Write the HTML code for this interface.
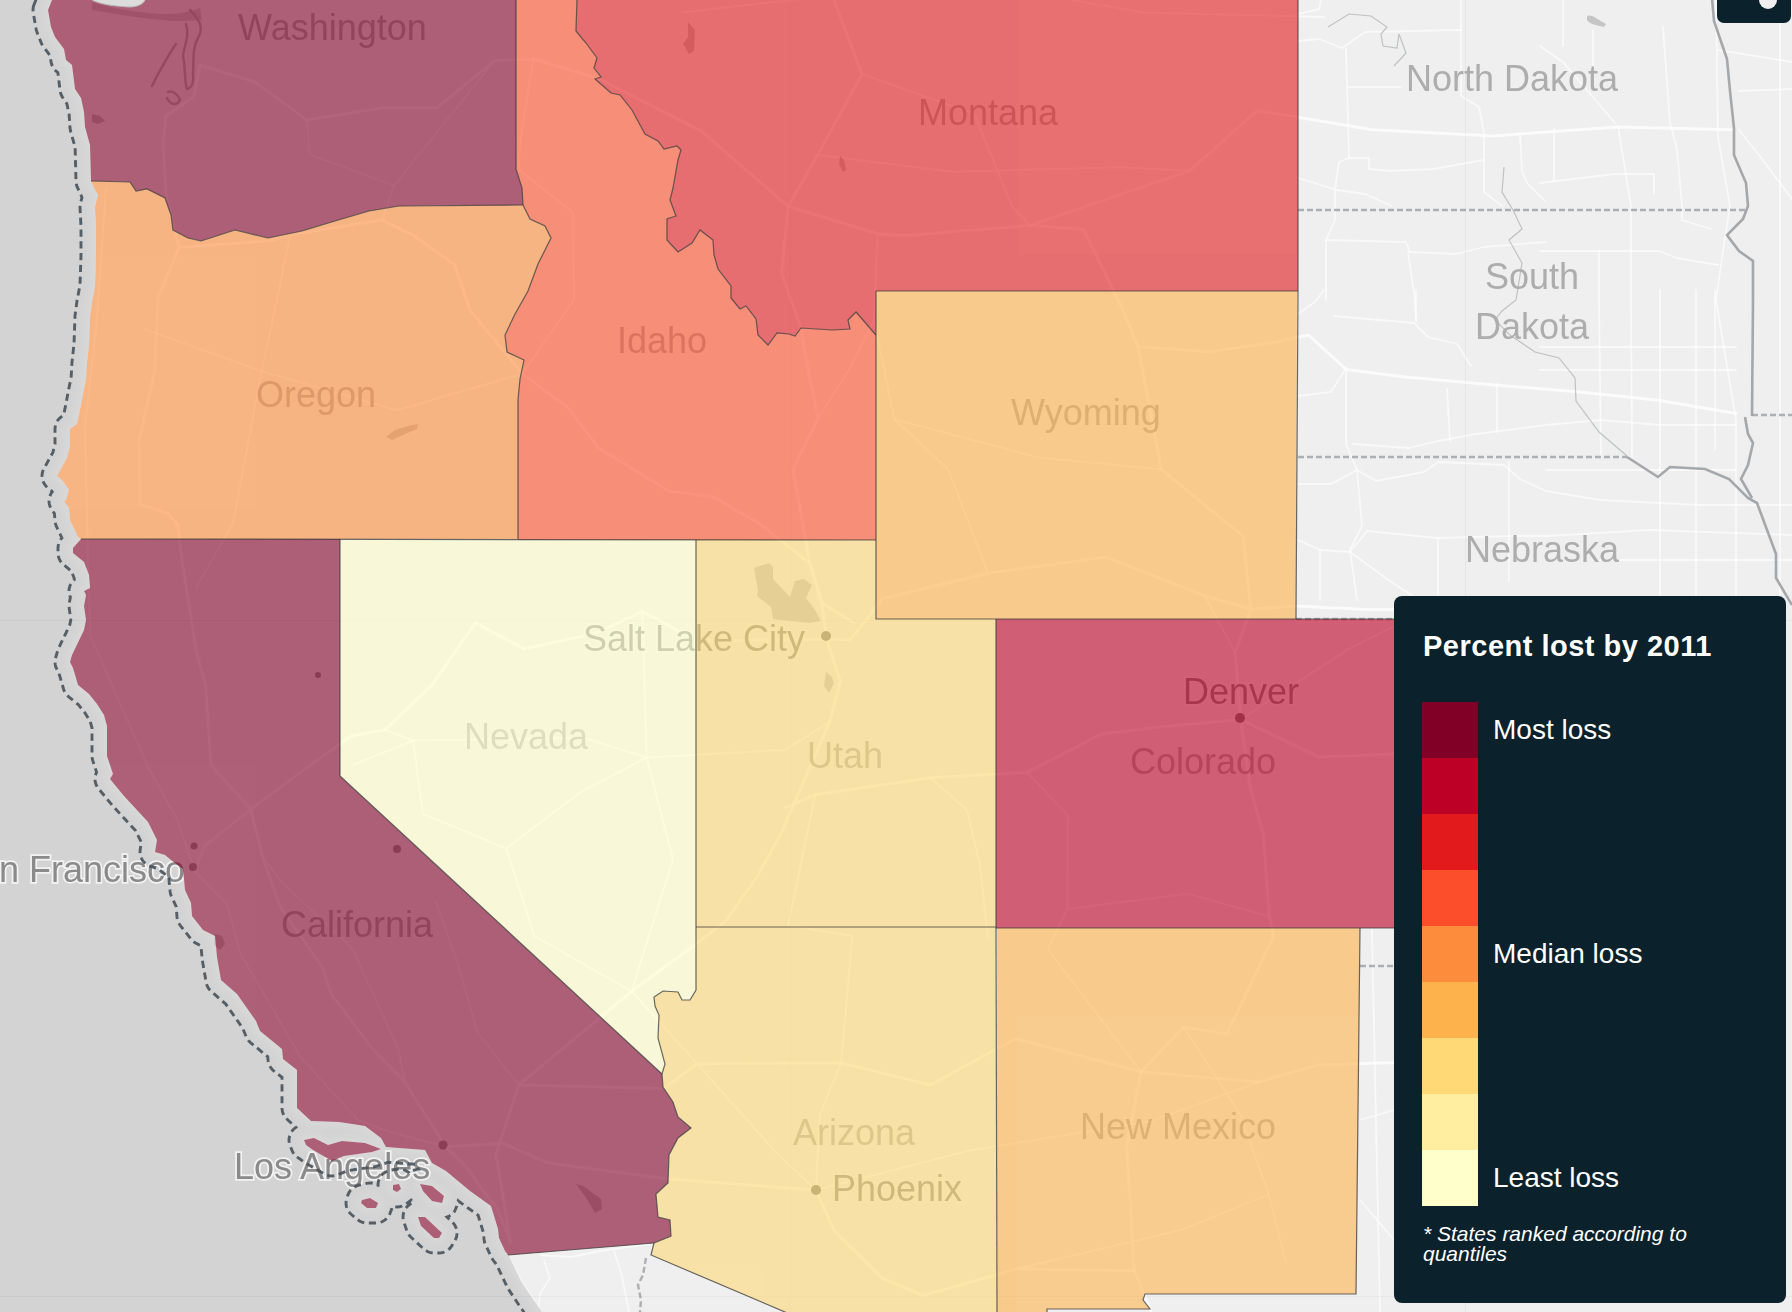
<!DOCTYPE html>
<html><head><meta charset="utf-8"><style>
html,body{margin:0;padding:0;width:1792px;height:1312px;overflow:hidden;background:#efefef;}
#map{position:absolute;left:0;top:0;filter:blur(0.4px);}
.legend{position:absolute;left:1394px;top:596px;width:392px;height:707px;background:#0b212b;border-radius:8px;font-family:"Liberation Sans",sans-serif;color:#fff;}
.title{position:absolute;left:29px;top:34px;font-size:29px;font-weight:bold;letter-spacing:0.5px;white-space:nowrap;}
.sw{position:absolute;left:28px;top:106px;width:56px;height:504px;}
.lab{position:absolute;left:99px;top:0;font-size:28px;white-space:nowrap;}
.foot{position:absolute;left:29px;top:628px;font-size:21px;font-style:italic;line-height:20px;width:330px;}
.btn{position:absolute;left:1717px;top:-10px;width:74px;height:33px;background:#0b212b;border-radius:7px;}
.dot{position:absolute;left:1759px;top:-9px;width:18px;height:18px;border-radius:9px;background:#efefef;}
</style></head><body>
<svg id="map" width="1792" height="1312" viewBox="0 0 1792 1312">
<defs><filter id="blur3" x="-5%" y="-5%" width="110%" height="110%"><feGaussianBlur stdDeviation="3"/></filter><filter id="soft" x="-5%" y="-5%" width="110%" height="110%"><feGaussianBlur stdDeviation="0.6"/></filter></defs>
<rect x="0" y="0" width="1792" height="1312" fill="#d3d3d3"/>
<path d="M43.4,8.1 L43.1,9.0 L43.0,9.9 L43.1,10.9 L46.1,27.9 L46.4,28.9 L50.4,38.9 L51.0,40.0 L59.3,51.1 L61.1,60.9 L61.3,61.7 L61.7,62.5 L62.2,63.2 L62.8,63.8 L67.3,67.6 L70.0,89.6 L70.3,90.7 L70.8,91.8 L76.3,100.0 L79.0,112.7 L80.0,127.3 L80.2,128.3 L85.0,145.7 L86.0,181.1 L86.1,182.1 L86.4,183.1 L91.4,194.1 L91.8,194.8 L92.6,195.9 L90.1,205.8 L90.0,206.5 L90.0,207.3 L91.0,226.1 L91.0,255.9 L90.0,286.4 L87.1,301.0 L87.0,301.3 L85.0,316.3 L85.0,316.8 L84.0,344.6 L82.0,362.4 L82.0,362.7 L81.0,379.3 L79.1,387.9 L79.1,388.1 L75.1,409.0 L72.5,421.1 L67.1,424.9 L66.4,425.6 L65.8,426.3 L65.4,427.1 L65.1,428.1 L65.0,429.0 L65.0,445.4 L62.3,456.1 L52.6,473.6 L52.2,474.5 L52.0,475.4 L52.0,476.4 L52.2,477.4 L52.6,478.3 L53.1,479.1 L53.8,479.8 L59.2,484.4 L63.5,490.8 L61.8,496.5 L61.8,496.5 L61.0,497.0 L60.3,497.7 L59.7,498.5 L59.3,499.3 L59.1,500.3 L59.0,501.2 L59.1,502.2 L59.5,503.1 L59.9,503.9 L64.1,509.8 L65.0,520.4 L65.2,521.3 L65.5,522.1 L73.5,539.1 L73.8,539.6 L69.3,544.7 L68.7,545.4 L68.3,546.2 L68.1,547.1 L68.0,548.0 L68.0,553.0 L68.1,553.9 L68.3,554.7 L68.7,555.5 L69.2,556.3 L69.8,556.9 L79.8,565.0 L84.1,576.1 L84.8,585.0 L81.8,586.5 L80.9,587.1 L80.2,587.7 L79.7,588.5 L79.3,589.4 L79.0,590.4 L79.0,591.4 L79.2,592.3 L79.5,593.2 L80.8,595.7 L79.1,605.1 L79.0,605.9 L79.1,606.7 L80.9,619.9 L79.2,628.4 L67.5,652.8 L67.2,653.6 L65.2,660.6 L65.0,661.5 L65.0,662.5 L65.2,663.4 L65.5,664.2 L68.3,669.8 L73.2,686.4 L73.6,687.3 L74.1,688.2 L74.8,688.9 L85.4,697.5 L92.9,706.9 L99.4,717.0 L102.0,726.7 L102.0,756.0 L102.1,756.8 L102.3,757.6 L107.5,773.4 L105.7,776.4 L105.3,777.4 L105.0,778.3 L105.0,779.4 L105.2,780.4 L105.6,781.3 L106.1,782.2 L120.1,799.2 L120.3,799.4 L143.8,824.9 L151.8,840.8 L150.1,851.2 L150.0,852.2 L150.2,853.2 L150.5,854.2 L151.1,855.1 L151.8,855.8 L152.6,856.4 L153.6,856.8 L162.6,859.5 L167.8,863.8 L168.0,864.0 L178.2,871.7 L180.0,890.5 L180.2,891.3 L180.5,892.1 L186.1,904.3 L187.0,916.4 L187.2,917.3 L187.5,918.3 L188.1,919.1 L199.1,933.1 L199.8,933.9 L200.8,934.5 L210.3,939.2 L212.0,957.5 L212.1,957.9 L216.1,980.9 L216.4,981.9 L216.9,982.9 L217.7,983.8 L233.3,997.4 L251.6,1023.4 L255.4,1032.9 L255.7,1033.6 L256.2,1034.3 L256.8,1034.9 L277.2,1051.6 L278.0,1059.5 L278.2,1060.5 L278.6,1061.4 L279.2,1062.2 L279.9,1062.9 L292.0,1072.4 L292.0,1108.0 L292.1,1109.0 L292.4,1110.0 L292.9,1110.9 L293.6,1111.7 L307.6,1124.7 L308.3,1125.2 L309.1,1125.6 L309.9,1125.9 L310.8,1126.0 L338.5,1127.0 L363.0,1130.8 L377.1,1141.4 L377.7,1142.4 L366.8,1138.3 L365.4,1138.0 L342.4,1136.0 L341.5,1136.0 L340.6,1136.2 L328.5,1139.7 L316.2,1133.5 L315.2,1133.1 L314.1,1133.0 L313.0,1133.1 L303.0,1135.1 L302.1,1135.4 L301.2,1135.8 L300.5,1136.5 L299.9,1137.2 L299.4,1138.1 L299.1,1139.0 L299.0,1140.0 L299.1,1140.9 L299.4,1141.9 L301.4,1146.9 L301.8,1147.7 L302.4,1148.4 L303.1,1149.1 L310.1,1154.1 L310.5,1154.3 L329.5,1165.3 L330.3,1165.7 L331.2,1165.9 L332.1,1166.0 L333.0,1165.9 L333.9,1165.6 L345.3,1160.9 L372.7,1156.9 L373.6,1156.7 L382.6,1153.7 L383.4,1153.4 L384.2,1152.8 L384.9,1152.1 L385.1,1151.9 L385.6,1152.0 L421.9,1154.8 L427.6,1165.4 L428.1,1166.1 L428.8,1166.8 L429.5,1167.3 L443.1,1175.1 L466.8,1194.8 L467.1,1195.1 L486.7,1209.1 L493.1,1230.0 L494.0,1238.6 L494.2,1239.3 L494.5,1240.1 L500.5,1253.1 L501.0,1254.0 L503.9,1257.9 L505.6,1260.5 L516.5,1283.2 L516.8,1283.8 L528.8,1301.8 L528.9,1301.8 L537.5,1314.3 L540.3,1321.8 L540.8,1322.7 L541.4,1323.5 L542.2,1324.1 L543.0,1324.6 L544.0,1324.9 L545.0,1325.0 L1800.0,1325.0 L1801.0,1324.9 L1801.9,1324.6 L1802.8,1324.2 L1803.5,1323.5 L1804.2,1322.8 L1804.6,1321.9 L1804.9,1321.0 L1805.0,1320.0 L1805.0,-5.0 L1804.9,-6.0 L1804.6,-6.9 L1804.2,-7.8 L1803.5,-8.5 L1802.8,-9.2 L1801.9,-9.6 L1801.0,-9.9 L1800.0,-10.0 L52.0,-7.0 L51.0,-6.9 L50.1,-6.6 L49.2,-6.2 L48.5,-5.5 L47.8,-4.8 L47.4,-3.9 L47.1,-3.0 L47.0,-2.0 L47.0,-1.0 L43.4,8.1Z M428.3,1204.3 L429.1,1205.1 L430.0,1205.6 L431.0,1205.9 L441.0,1207.9 L441.9,1208.0 L442.9,1207.9 L443.8,1207.7 L444.6,1207.3 L445.3,1206.7 L446.0,1206.0 L446.5,1205.2 L446.8,1204.4 L448.8,1197.4 L449.0,1196.4 L449.0,1195.5 L448.8,1194.5 L448.4,1193.6 L447.9,1192.8 L447.2,1192.2 L435.2,1182.2 L434.5,1181.7 L433.7,1181.3 L432.8,1181.1 L420.8,1179.1 L419.9,1179.0 L418.9,1179.1 L418.0,1179.4 L417.1,1179.9 L416.4,1180.5 L415.8,1181.3 L415.3,1182.2 L415.1,1183.1 L415.0,1184.1 L415.1,1185.0 L415.4,1186.0 L418.4,1193.0 L418.8,1193.7 L419.3,1194.3 L428.3,1204.3Z M439.0,1243.0 L440.0,1242.9 L441.0,1242.6 L441.9,1242.1 L442.7,1241.4 L443.3,1240.6 L446.3,1235.6 L446.7,1234.7 L446.9,1233.8 L447.0,1232.8 L446.9,1231.8 L446.5,1230.9 L446.1,1230.1 L445.4,1229.4 L428.4,1213.4 L427.7,1212.8 L426.8,1212.4 L425.9,1212.1 L425.0,1212.0 L418.0,1212.0 L417.1,1212.1 L416.2,1212.4 L415.3,1212.8 L414.6,1213.4 L413.9,1214.1 L413.5,1214.9 L413.2,1215.8 L413.0,1216.7 L413.0,1217.7 L413.3,1218.6 L416.3,1227.6 L416.6,1228.4 L417.0,1229.1 L417.6,1229.7 L430.6,1241.7 L431.3,1242.2 L432.2,1242.7 L433.1,1242.9 L434.0,1243.0 L439.0,1243.0Z M404.0,1193.0 L404.7,1192.4 L405.3,1191.6 L405.7,1190.8 L405.9,1189.9 L406.0,1189.0 L405.9,1188.0 L405.6,1187.1 L403.6,1182.1 L403.2,1181.3 L402.6,1180.5 L401.9,1179.9 L401.0,1179.4 L400.1,1179.1 L399.1,1179.0 L398.2,1179.1 L392.2,1180.1 L391.2,1180.3 L390.3,1180.8 L389.5,1181.4 L388.9,1182.2 L388.4,1183.0 L388.1,1184.0 L388.0,1185.0 L388.0,1190.0 L388.1,1190.9 L388.3,1191.8 L388.7,1192.6 L389.3,1193.4 L390.0,1194.0 L390.8,1194.5 L394.8,1196.5 L395.6,1196.8 L396.5,1197.0 L397.4,1197.0 L398.4,1196.8 L399.2,1196.5 L400.0,1196.0 L404.0,1193.0Z M376.0,1213.0 L377.0,1212.9 L377.9,1212.6 L378.8,1212.1 L379.6,1211.5 L380.2,1210.7 L380.6,1209.9 L382.6,1204.9 L382.9,1203.9 L383.0,1202.9 L382.9,1201.9 L382.6,1201.0 L382.1,1200.1 L381.4,1199.4 L380.6,1198.8 L372.6,1193.8 L371.8,1193.3 L370.8,1193.1 L369.8,1193.0 L368.8,1193.1 L360.8,1195.1 L359.8,1195.5 L359.0,1196.0 L358.3,1196.7 L357.7,1197.5 L357.3,1198.4 L356.3,1201.4 L356.0,1202.4 L356.0,1203.4 L356.2,1204.4 L356.6,1205.3 L357.1,1206.1 L357.8,1206.8 L363.8,1211.8 L364.5,1212.3 L365.3,1212.7 L366.1,1212.9 L367.0,1213.0 L376.0,1213.0Z" fill="#d8d8d8" filter="url(#blur3)"/>
<path d="M48.0,10.0 L51.0,27.0 L55.0,37.0 L64.0,49.0 L66.0,60.0 L72.0,65.0 L75.0,89.0 L81.0,98.0 L84.0,112.0 L85.0,127.0 L90.0,145.0 L91.0,181.0 L96.0,192.0 L98.0,195.0 L95.0,207.0 L96.0,226.0 L96.0,256.0 L95.0,287.0 L92.0,302.0 L90.0,317.0 L89.0,345.0 L87.0,363.0 L86.0,380.0 L84.0,389.0 L80.0,410.0 L77.0,424.0 L70.0,429.0 L70.0,446.0 L67.0,458.0 L57.0,476.0 L63.0,481.0 L69.0,490.0 L66.0,500.0 L64.0,501.0 L69.0,508.0 L70.0,520.0 L78.0,537.0 L81.0,539.0 L73.0,548.0 L73.0,553.0 L84.0,562.0 L89.0,575.0 L90.0,588.0 L84.0,591.0 L86.0,595.0 L84.0,606.0 L86.0,620.0 L84.0,630.0 L72.0,655.0 L70.0,662.0 L73.0,668.0 L78.0,685.0 L89.0,694.0 L97.0,704.0 L104.0,715.0 L107.0,726.0 L107.0,756.0 L113.0,774.0 L110.0,779.0 L124.0,796.0 L148.0,822.0 L157.0,840.0 L155.0,852.0 L165.0,855.0 L171.0,860.0 L183.0,869.0 L185.0,890.0 L191.0,903.0 L192.0,916.0 L203.0,930.0 L215.0,936.0 L217.0,957.0 L221.0,980.0 L237.0,994.0 L256.0,1021.0 L260.0,1031.0 L282.0,1049.0 L283.0,1059.0 L297.0,1070.0 L297.0,1108.0 L311.0,1121.0 L339.0,1122.0 L365.0,1126.0 L381.0,1138.0 L386.0,1147.0 L425.0,1150.0 L432.0,1163.0 L446.0,1171.0 L470.0,1191.0 L491.0,1206.0 L498.0,1229.0 L499.0,1238.0 L505.0,1251.0 L508.0,1255.0 L510.0,1258.0 L521.0,1281.0 L533.0,1299.0 L542.0,1312.0 L545.0,1320.0 L1800.0,1320.0 L1800.0,-5.0 L52.0,-2.0 L52.0,0.0 L48.0,10.0Z M332.0,1161.0 L344.0,1156.0 L372.0,1152.0 L381.0,1149.0 L365.0,1143.0 L342.0,1141.0 L328.0,1145.0 L314.0,1138.0 L304.0,1140.0 L306.0,1145.0 L313.0,1150.0 L332.0,1161.0Z M401.0,1189.0 L399.0,1184.0 L393.0,1185.0 L393.0,1190.0 L397.0,1192.0 L401.0,1189.0Z M432.0,1201.0 L442.0,1203.0 L444.0,1196.0 L432.0,1186.0 L420.0,1184.0 L423.0,1191.0 L432.0,1201.0Z M376.0,1208.0 L378.0,1203.0 L370.0,1198.0 L362.0,1200.0 L361.0,1203.0 L367.0,1208.0 L376.0,1208.0Z M439.0,1238.0 L442.0,1233.0 L425.0,1217.0 L418.0,1217.0 L421.0,1226.0 L434.0,1238.0 L439.0,1238.0Z" fill="#efefef"/>
<clipPath id="landclip"><path d="M48.0,10.0 L51.0,27.0 L55.0,37.0 L64.0,49.0 L66.0,60.0 L72.0,65.0 L75.0,89.0 L81.0,98.0 L84.0,112.0 L85.0,127.0 L90.0,145.0 L91.0,181.0 L96.0,192.0 L98.0,195.0 L95.0,207.0 L96.0,226.0 L96.0,256.0 L95.0,287.0 L92.0,302.0 L90.0,317.0 L89.0,345.0 L87.0,363.0 L86.0,380.0 L84.0,389.0 L80.0,410.0 L77.0,424.0 L70.0,429.0 L70.0,446.0 L67.0,458.0 L57.0,476.0 L63.0,481.0 L69.0,490.0 L66.0,500.0 L64.0,501.0 L69.0,508.0 L70.0,520.0 L78.0,537.0 L81.0,539.0 L73.0,548.0 L73.0,553.0 L84.0,562.0 L89.0,575.0 L90.0,588.0 L84.0,591.0 L86.0,595.0 L84.0,606.0 L86.0,620.0 L84.0,630.0 L72.0,655.0 L70.0,662.0 L73.0,668.0 L78.0,685.0 L89.0,694.0 L97.0,704.0 L104.0,715.0 L107.0,726.0 L107.0,756.0 L113.0,774.0 L110.0,779.0 L124.0,796.0 L148.0,822.0 L157.0,840.0 L155.0,852.0 L165.0,855.0 L171.0,860.0 L183.0,869.0 L185.0,890.0 L191.0,903.0 L192.0,916.0 L203.0,930.0 L215.0,936.0 L217.0,957.0 L221.0,980.0 L237.0,994.0 L256.0,1021.0 L260.0,1031.0 L282.0,1049.0 L283.0,1059.0 L297.0,1070.0 L297.0,1108.0 L311.0,1121.0 L339.0,1122.0 L365.0,1126.0 L381.0,1138.0 L386.0,1147.0 L425.0,1150.0 L432.0,1163.0 L446.0,1171.0 L470.0,1191.0 L491.0,1206.0 L498.0,1229.0 L499.0,1238.0 L505.0,1251.0 L508.0,1255.0 L510.0,1258.0 L521.0,1281.0 L533.0,1299.0 L542.0,1312.0 L545.0,1320.0 L1800.0,1320.0 L1800.0,-5.0 L52.0,-2.0 L52.0,0.0 L48.0,10.0Z M332.0,1161.0 L344.0,1156.0 L372.0,1152.0 L381.0,1149.0 L365.0,1143.0 L342.0,1141.0 L328.0,1145.0 L314.0,1138.0 L304.0,1140.0 L306.0,1145.0 L313.0,1150.0 L332.0,1161.0Z M401.0,1189.0 L399.0,1184.0 L393.0,1185.0 L393.0,1190.0 L397.0,1192.0 L401.0,1189.0Z M432.0,1201.0 L442.0,1203.0 L444.0,1196.0 L432.0,1186.0 L420.0,1184.0 L423.0,1191.0 L432.0,1201.0Z M376.0,1208.0 L378.0,1203.0 L370.0,1198.0 L362.0,1200.0 L361.0,1203.0 L367.0,1208.0 L376.0,1208.0Z M439.0,1238.0 L442.0,1233.0 L425.0,1217.0 L418.0,1217.0 L421.0,1226.0 L434.0,1238.0 L439.0,1238.0Z"/></clipPath>
<g fill="none" stroke="#ffffff" stroke-linejoin="round" stroke-linecap="round" clip-path="url(#landclip)">
<path d="M200.2,65.2 L193.6,97.1 L166.0,115.7 L163.0,143.7 L166.0,194.2 L179.2,247.6 L158.2,297.0 L154.6,371.9 L139.0,440.7 L140.2,504.5 L167.8,513.5 L178.0,524.8 L182.2,561.9 L196.6,652.8 L205.6,685.1 L211.0,765.4 L250.6,809.3 L262.6,856.7 L280.0,906.7 L322.0,966.7 L331.0,993.5 L371.8,1048.2 L404.8,1082.0 L445.6,1146.8 L467.8,1168.5 L483.4,1191.5 L497.2,1208.0 L510.4,1242.4" stroke-width="3" opacity="0.75"/>
<path d="M179.2,247.6 L269.2,240.8 L290.2,234.8 L382.0,220.1 L412.6,234.8 L454.6,264.7 L470.2,310.6 L522.4,373.6 L568.0,407.7 L598.6,448.1 L670.0,491.5 L712.6,496.4 L760.0,524.0 L809.8,563.5 L821.8,602.8 L853.6,622.7" stroke-width="3" opacity="0.75"/>
<path d="M200.2,65.2 L255.4,82.1 L307.0,120.1 L383.2,107.7 L437.2,107.7 L494.2,60.8 L533.2,59.0 L598.0,78.5 L700.6,130.6 L788.2,206.3 L877.6,233.9 L906.4,235.6 L1030.0,225.3 L1083.4,229.6 L1122.4,308.9 L1138.0,346.8 L1210.0,351.8 L1277.2,341.8 L1308.4,335.0 L1346.2,369.4 L1405.6,376.9 L1497.4,385.2 L1580.2,391.9 L1658.2,400.2 L1736.2,413.5" stroke-width="3" opacity="0.75"/>
<path d="M1030.0,225.3 L1189.6,170.8 L1257.4,110.4 L1372.6,129.7 L1493.2,135.9 L1617.4,127.1 L1732.6,129.7" stroke-width="3" opacity="0.75"/>
<path d="M510.4,1242.4 L496.0,1154.0 L518.8,1084.9 L631.6,991.3 L695.8,944.3 L725.2,921.7 L756.4,877.9 L781.6,832.3 L829.6,721.9 L840.4,681.2 L826.6,639.3 L821.8,602.8 L809.8,563.5 L793.0,469.5 L818.2,418.4 L806.2,361.0 L801.4,329.1 L781.6,273.3 L788.2,206.3 L817.6,155.1 L862.0,74.1 L828.4,-14.7 L822.4,-60.2" stroke-width="3" opacity="0.75"/>
<path d="M194.8,871.1 L204.4,846.0 L250.6,809.3 L329.2,751.4 L351.4,735.9 L385.0,729.7 L431.8,685.1 L475.6,622.7 L524.2,648.8 L594.4,633.8 L642.4,611.5 L697.6,640.9 L826.6,639.3 L850.0,640.1 L882.4,598.8 L988.0,573.2 L1105.6,557.1 L1204.6,595.6 L1250.8,609.2 L1295.8,606.0 L1361.2,609.2 L1493.8,610.7 L1595.2,644.1 L1639.6,626.7 L1738.0,635.4" stroke-width="3" opacity="0.75"/>
<path d="M1134.4,1270.8 L1126.6,1146.1 L1141.0,1071.7 L1183.6,1026.9 L1226.8,1034.2 L1273.6,936.8 L1269.4,916.5 L1263.4,834.6 L1250.8,790.1 L1240.6,719.5 L1235.2,652.8 L1250.8,609.2 L1243.0,536.1 L1161.4,469.5 L1138.0,346.8" stroke-width="3" opacity="0.75"/>
<path d="M785.2,807.8 L815.2,794.7 L930.4,777.7 L1027.0,772.3 L1100.8,734.3 L1157.8,727.3 L1240.6,719.5 L1318.6,756.9 L1403.8,753.8" stroke-width="3" opacity="0.75"/>
<path d="M518.8,1084.9 L663.4,1088.6 L697.0,1063.7 L841.0,1062.9 L930.4,1084.9 L1015.6,1038.7 L1141.0,1071.7 L1259.2,1082.0 L1316.8,1065.1 L1430.2,1061.5" stroke-width="3" opacity="0.75"/>
<path d="M445.6,1146.8 L502.6,1143.2 L547.0,1162.7 L664.0,1178.6 L815.8,1190.1 L834.4,1230.9 L881.8,1277.9 L922.6,1295.6 L1017.4,1268.7 L1134.4,1270.8 L1150.6,1310.5" stroke-width="3" opacity="0.75"/>
<path d="M815.8,1190.1 L820.0,1114.1 L841.0,1062.9" stroke-width="2" opacity="0.65"/>
<path d="M631.6,991.3 L534.4,936.0 L506.2,848.3 L422.8,813.9 L413.2,740.6 L385.0,729.7" stroke-width="2" opacity="0.65"/>
<path d="M642.4,611.5 L646.6,757.6 L673.0,859.0 L631.6,991.3 L697.0,1063.7 L776.2,1152.6 L815.8,1190.1" stroke-width="2" opacity="0.65"/>
<path d="M194.8,871.1 L226.6,903.7 L240.4,953.3 L300.4,1057.1 L358.0,1119.9 L386.2,1130.8 L445.6,1146.8" stroke-width="2" opacity="0.65"/>
<path d="M194.8,871.1 L177.4,820.0 L147.4,765.4 L90.4,636.2 L88.0,560.3 L85.0,425.9 L96.4,325.8 L106.0,189.0" stroke-width="2" opacity="0.65"/>
<path d="M250.6,809.3 L262.6,856.7 L280.6,881.0 L352.6,948.8 L398.8,1050.4 L404.8,1082.0" stroke-width="2" opacity="0.65"/>
<path d="M1240.6,719.5 L1347.4,649.6 L1404.4,621.1" stroke-width="2" opacity="0.65"/>
<path d="M353.8,764.6 L413.2,740.6 L515.8,739.0 L582.4,737.4 L646.6,757.6 L785.2,749.9 L829.6,721.9" stroke-width="2" opacity="0.65"/>
<path d="M533.2,59.0 L520.0,142.9 L518.8,169.9 L572.8,212.4 L574.0,299.6 L522.4,373.6" stroke-width="2" opacity="0.65"/>
<path d="M290.2,234.8 L272.2,323.2 L261.4,371.1 L233.2,522.4 L196.6,586.8" stroke-width="2" opacity="0.65"/>
<path d="M307.0,120.1 L309.4,154.2 L394.0,185.6 L382.0,220.1" stroke-width="2" opacity="0.65"/>
<path d="M494.2,60.8 L394.0,185.6" stroke-width="2" opacity="0.65"/>
<path d="M1161.4,469.5 L1037.2,457.2 L894.4,419.3" stroke-width="2" opacity="0.65"/>
<path d="M930.4,777.7 L967.0,810.1 L979.6,863.5 L988.0,936.8" stroke-width="2" opacity="0.65"/>
<path d="M841.0,1062.9 L852.4,936.0 L788.2,925.5 L815.2,794.7" stroke-width="2" opacity="0.65"/>
<path d="M1183.6,1026.9 L1240.0,1114.1 L1268.8,1194.4 L1286.2,1263.7" stroke-width="2" opacity="0.65"/>
<path d="M818.2,418.4 L850.0,367.7 L874.0,320.7" stroke-width="2" opacity="0.65"/>
<path d="M682.0,12.4 L959.2,-19.2 L1144.0,12.4 L1324.0,16.9" stroke-width="2" opacity="0.65"/>
<path d="M862.0,74.1 L974.2,113.9 L1012.0,206.3 L1030.0,225.3" stroke-width="2" opacity="0.65"/>
<path d="M817.6,155.1 L952.0,171.7 L1120.0,167.3 L1189.6,170.8" stroke-width="2" opacity="0.65"/>
<path d="M144.4,329.1 L261.4,371.1 L397.0,410.2 L522.4,373.6" stroke-width="2" opacity="0.65"/>
<path d="M1493.8,610.7 L1420.0,620.3" stroke-width="2" opacity="0.65"/>
<path d="M436.0,902.2 L456.4,959.2 L478.0,1033.5 L518.8,1084.9" stroke-width="2" opacity="0.65"/>
<path d="M988.0,573.2 L948.4,469.5 L894.4,419.3 L874.0,320.7 L877.6,233.9" stroke-width="2" opacity="0.65"/>
<path d="M1204.6,595.6 L1235.2,652.8" stroke-width="2" opacity="0.65"/>
<path d="M1067.2,908.9 L1187.8,893.8 L1269.4,916.5" stroke-width="2" opacity="0.65"/>
<path d="M1141.0,1071.7 L1048.0,949.5 L1067.2,908.9 L1067.8,815.4 L1027.0,772.3" stroke-width="2" opacity="0.65"/>
<path d="M815.8,1190.1 L970.0,1150.4 L1150.0,1121.4 L1259.2,1082.0" stroke-width="2" opacity="0.65"/>
<path d="M1017.4,1268.7 L1182.4,1229.5 L1268.8,1194.4" stroke-width="2" opacity="0.65"/>
<path d="M506.2,848.3 L580.0,792.4 L646.6,757.6" stroke-width="2" opacity="0.65"/>
<path d="M1298.0,41.0 L1319.0,39.0 L1342.0,48.0 L1365.0,32.0 L1461.0,30.0" stroke-width="1.8" opacity="0.6"/>
<path d="M1298.0,14.0 L1319.0,9.0 L1321.0,0.0" stroke-width="1.8" opacity="0.6"/>
<path d="M1346.0,48.0 L1349.0,158.0 L1339.0,162.0 L1335.0,190.0 L1335.0,220.0 L1326.0,240.0 L1326.0,300.0" stroke-width="1.8" opacity="0.6"/>
<path d="M1349.0,87.0 L1401.0,87.0" stroke-width="1.8" opacity="0.6"/>
<path d="M1461.0,0.0 L1461.0,30.0 L1461.0,96.0 L1479.0,107.0 L1484.0,133.0 L1484.0,192.0 L1502.0,206.0" stroke-width="1.8" opacity="0.6"/>
<path d="M1349.0,158.0 L1369.0,158.0 L1369.0,169.0 L1392.0,171.0 L1433.0,169.0 L1484.0,160.0" stroke-width="1.8" opacity="0.6"/>
<path d="M1298.0,178.0 L1337.0,190.0 L1365.0,194.0 L1392.0,206.0" stroke-width="1.8" opacity="0.6"/>
<path d="M1326.0,240.0 L1406.0,242.0 L1410.0,252.0 L1456.0,254.0 L1484.0,247.0 L1546.0,242.0" stroke-width="1.8" opacity="0.6"/>
<path d="M1408.0,252.0 L1415.0,300.0 L1416.0,321.0" stroke-width="1.8" opacity="0.6"/>
<path d="M1520.0,133.0 L1522.0,171.0 L1527.0,183.0 L1545.0,201.0" stroke-width="1.8" opacity="0.6"/>
<path d="M1540.0,46.0 L1563.0,62.0 L1615.0,123.0" stroke-width="1.8" opacity="0.6"/>
<path d="M1593.0,30.0 L1593.0,66.0" stroke-width="1.8" opacity="0.6"/>
<path d="M1663.0,27.0 L1670.0,123.0 L1677.0,149.0 L1682.0,206.0 L1682.0,220.0 L1711.0,229.0" stroke-width="1.8" opacity="0.6"/>
<path d="M1540.0,183.0 L1615.0,174.0 L1654.0,174.0 L1654.0,194.0" stroke-width="1.8" opacity="0.6"/>
<path d="M1554.0,128.0 L1554.0,181.0" stroke-width="1.8" opacity="0.6"/>
<path d="M1618.0,126.0 L1631.0,206.0 L1631.0,300.0 L1632.0,457.0" stroke-width="1.8" opacity="0.6"/>
<path d="M1540.0,251.0 L1631.0,251.0 L1659.0,251.0 L1677.0,258.0 L1718.0,265.0" stroke-width="1.8" opacity="0.6"/>
<path d="M1599.0,251.0 L1599.0,300.0 L1601.0,457.0" stroke-width="1.8" opacity="0.6"/>
<path d="M1739.0,130.0 L1759.0,155.0 L1792.0,199.0" stroke-width="1.8" opacity="0.6"/>
<path d="M1739.0,91.0 L1792.0,89.0" stroke-width="1.8" opacity="0.6"/>
<path d="M1718.0,50.0 L1792.0,62.0" stroke-width="1.8" opacity="0.6"/>
<path d="M1780.0,23.0 L1780.0,600.0" stroke-width="1.8" opacity="0.6"/>
<path d="M1298.0,396.0 L1331.0,392.0 L1346.0,368.0" stroke-width="1.8" opacity="0.6"/>
<path d="M1298.0,314.0 L1315.0,302.0 L1324.0,290.0" stroke-width="1.8" opacity="0.6"/>
<path d="M1334.0,316.0 L1414.0,323.0 L1428.0,337.0 L1457.0,344.0 L1471.0,366.0" stroke-width="1.8" opacity="0.6"/>
<path d="M1416.0,290.0 L1416.0,321.0" stroke-width="1.8" opacity="0.6"/>
<path d="M1346.0,368.0 L1346.0,444.0 L1357.0,470.0 L1362.0,526.0 L1350.0,550.0 L1357.0,600.0" stroke-width="1.8" opacity="0.6"/>
<path d="M1353.0,444.0 L1381.0,446.0 L1409.0,448.0 L1438.0,441.0 L1476.0,434.0 L1546.0,425.0 L1600.0,420.0 L1660.0,425.0 L1736.0,425.0" stroke-width="1.8" opacity="0.6"/>
<path d="M1298.0,484.0 L1331.0,484.0 L1357.0,470.0 L1376.0,481.0 L1424.0,472.0 L1438.0,462.0 L1504.0,465.0 L1520.0,479.0 L1546.0,491.0 L1600.0,500.0 L1700.0,505.0 L1792.0,505.0" stroke-width="1.8" opacity="0.6"/>
<path d="M1509.0,462.0 L1509.0,581.0" stroke-width="1.8" opacity="0.6"/>
<path d="M1497.0,384.0 L1497.0,432.0" stroke-width="1.8" opacity="0.6"/>
<path d="M1447.0,389.0 L1450.0,441.0" stroke-width="1.8" opacity="0.6"/>
<path d="M1298.0,540.0 L1320.0,550.0 L1350.0,552.0 L1367.0,531.0 L1438.0,538.0 L1509.0,536.0 L1546.0,536.0 L1650.0,530.0 L1792.0,535.0" stroke-width="1.8" opacity="0.6"/>
<path d="M1438.0,538.0 L1438.0,600.0" stroke-width="1.8" opacity="0.6"/>
<path d="M1350.0,552.0 L1390.0,581.0 L1414.0,597.0" stroke-width="1.8" opacity="0.6"/>
<path d="M1320.0,550.0 L1320.0,600.0" stroke-width="1.8" opacity="0.6"/>
<path d="M1660.0,290.0 L1660.0,600.0" stroke-width="1.8" opacity="0.6"/>
<path d="M1696.0,290.0 L1696.0,600.0" stroke-width="1.8" opacity="0.6"/>
<path d="M1715.0,290.0 L1715.0,450.0" stroke-width="1.8" opacity="0.6"/>
<path d="M1540.0,347.0 L1736.0,347.0" stroke-width="1.8" opacity="0.6"/>
<path d="M1540.0,370.0 L1736.0,370.0" stroke-width="1.8" opacity="0.6"/>
<path d="M1546.0,470.0 L1736.0,470.0" stroke-width="1.8" opacity="0.6"/>
<path d="M1600.0,560.0 L1792.0,560.0" stroke-width="1.8" opacity="0.6"/>
<path d="M1563.0,0.0 L1563.0,46.0" stroke-width="1.8" opacity="0.6"/>
<path d="M1716.0,0.0 L1718.0,137.0 L1730.0,206.0 L1723.0,251.0 L1716.0,300.0 L1736.0,420.0 L1736.0,600.0" stroke-width="1.8" opacity="0.6"/>
<path d="M509.0,1258.0 L521.0,1281.0 L533.0,1299.0 L540.0,1312.0" stroke-width="1.8" opacity="0.6"/>
<path d="M541.0,1255.0 L571.0,1257.0 L600.0,1251.0 L650.0,1244.0" stroke-width="1.8" opacity="0.6"/>
<path d="M544.0,1261.0 L550.0,1278.0 L540.0,1294.0 L538.0,1312.0" stroke-width="1.8" opacity="0.6"/>
<path d="M614.0,1251.0 L621.0,1272.0 L629.0,1312.0" stroke-width="1.8" opacity="0.6"/>
<path d="M1360.0,1120.0 L1394.0,1110.0" stroke-width="1.8" opacity="0.6"/>
<path d="M1372.0,930.0 L1380.0,1312.0" stroke-width="1.8" opacity="0.6"/>
<path d="M1360.0,1200.0 L1394.0,1240.0" stroke-width="1.8" opacity="0.6"/>
</g>
<g stroke="#000" stroke-width="1" opacity="0.03"><path d="M790.5,0 L790.5,1312 M1465.5,0 L1465.5,1312 M0,620.5 L1792,620.5 M0,1296.5 L1792,1296.5"/></g>
<path d="M1298.0,210.0 L1747.0,210.0" fill="none" stroke="#9aa0a5" stroke-width="2.4" stroke-dasharray="6 3" opacity="0.8"/>
<path d="M1298.0,457.0 L1627.0,457.0" fill="none" stroke="#9aa0a5" stroke-width="2.4" stroke-dasharray="6 3" opacity="0.8"/>
<path d="M1752.0,415.0 L1795.0,415.0" fill="none" stroke="#9aa0a5" stroke-width="2.4" stroke-dasharray="6 3" opacity="0.8"/>
<path d="M1296.0,619.0 L1400.0,619.0" fill="none" stroke="#9aa0a5" stroke-width="2.4" stroke-dasharray="6 3" opacity="0.8"/>
<path d="M1360.0,966.0 L1400.0,966.0" fill="none" stroke="#9aa0a5" stroke-width="2.4" stroke-dasharray="6 3" opacity="0.8"/>
<path d="M646.0,1258.0 L643.0,1275.0 L638.0,1285.0 L641.0,1300.0 L640.0,1312.0" fill="none" stroke="#9aa0a5" stroke-width="2.4" stroke-dasharray="6 3" opacity="0.8"/>
<path d="M1712.0,-2.0 L1714.0,21.0 L1727.0,59.0 L1730.0,91.0 L1734.0,128.0 L1734.0,155.0 L1746.0,183.0 L1748.0,206.0 L1743.0,219.0 L1727.0,235.0 L1739.0,251.0 L1753.0,261.0 L1753.0,300.0 L1752.0,416.0" fill="none" stroke="#9aa0a5" stroke-width="2.6" opacity="0.9"/>
<path d="M1627.0,457.0 L1658.0,477.0 L1670.0,467.0 L1705.0,469.0 L1729.0,479.0 L1748.0,498.0 L1757.0,503.0 L1776.0,554.0 L1776.0,578.0 L1792.0,605.0" fill="none" stroke="#9aa0a5" stroke-width="2.6" opacity="0.9"/>
<path d="M1745.0,417.0 L1748.0,434.0 L1753.0,443.0 L1748.0,465.0 L1741.0,479.0 L1752.0,498.0" fill="none" stroke="#9aa0a5" stroke-width="2.6" opacity="0.9"/>
<path d="M1328.0,27.0 L1349.0,14.0 L1371.0,16.0 L1387.0,27.0 L1381.0,34.0 L1383.0,46.0 L1397.0,48.0 L1399.0,34.0 L1406.0,53.0 L1394.0,66.0" fill="none" stroke="#8f959a" stroke-width="1.2" opacity="0.5"/>
<path d="M1504.0,167.0 L1502.0,192.0 L1513.0,210.0 L1522.0,229.0 L1509.0,240.0 L1522.0,263.0 L1516.0,300.0 L1502.0,311.0 L1495.0,320.0 L1510.0,335.0 L1535.0,352.0 L1559.0,358.0 L1575.0,378.0 L1576.0,401.0 L1599.0,432.0 L1627.0,456.0" fill="none" stroke="#8f959a" stroke-width="1.2" opacity="0.5"/>
<path d="M1587,16 C1592,14 1598,20 1606,24 L1604,27 C1596,25 1589,24 1587,20 Z" fill="#a8a8a8" opacity="0.6"/>
<g font-family="Liberation Sans, sans-serif" font-size="36">
<text x="238" y="40" fill="#adadad">Washington</text>
<text x="256" y="407" fill="#adadad">Oregon</text>
<text x="918" y="125" fill="#adadad">Montana</text>
<text x="617" y="353" fill="#adadad">Idaho</text>
<text x="1011" y="425" fill="#adadad">Wyoming</text>
<text x="464" y="749" fill="#adadad">Nevada</text>
<text x="807" y="768" fill="#adadad">Utah</text>
<text x="281" y="937" fill="#adadad">California</text>
<text x="793" y="1145" fill="#adadad">Arizona</text>
<text x="1080" y="1139" fill="#adadad">New Mexico</text>
<text x="1406" y="91" fill="#adadad">North Dakota</text>
<text x="1485" y="289" fill="#adadad">South</text>
<text x="1475" y="339" fill="#adadad">Dakota</text>
<text x="1465" y="562" fill="#adadad">Nebraska</text>
<text x="1130" y="774" fill="#adadad">Colorado</text>
<text x="-45" y="882" fill="#8a8a8a" stroke="#f2f2f2" stroke-width="3.5" paint-order="stroke">San Francisco</text>
<text x="234" y="1179" fill="#8a8a8a" stroke="#f2f2f2" stroke-width="3.5" paint-order="stroke">Los Angeles</text>
<text x="583" y="651" fill="#8a8a8a" stroke="#f2f2f2" stroke-width="3.5" paint-order="stroke">Salt Lake City</text>
<text x="1183" y="704" fill="#8a8a8a" stroke="#f2f2f2" stroke-width="3.5" paint-order="stroke">Denver</text>
<text x="832" y="1201" fill="#8a8a8a" stroke="#f2f2f2" stroke-width="3.5" paint-order="stroke">Phoenix</text>
</g>
<path d="M34.1,4.4 L33.4,6.4 L33.1,8.5 L33.0,10.5 L33.2,12.6 L36.2,29.6 L37.1,32.6 L41.1,42.6 L41.9,44.3 L43.0,46.0 L49.9,55.2 L51.2,62.7 L51.9,65.2 L53.0,67.6 L54.5,69.7 L56.4,71.5 L57.9,72.7 L60.1,90.9 L60.6,93.1 L61.4,95.3 L62.5,97.3 L66.9,103.9 L69.1,114.1 L70.0,128.0 L70.5,131.0 L75.1,147.2 L76.0,181.4 L76.2,183.4 L76.6,185.3 L77.3,187.2 L82.0,197.3 L80.4,203.4 L80.1,205.6 L80.0,207.8 L81.0,226.4 L81.0,255.8 L80.0,285.3 L77.3,299.1 L77.1,300.0 L75.1,315.0 L75.0,316.5 L74.0,343.9 L72.1,361.3 L72.0,362.1 L71.1,377.9 L69.4,385.7 L69.3,386.2 L65.3,407.0 L63.6,415.2 L61.3,416.8 L59.5,418.3 L57.9,420.1 L56.7,422.1 L55.7,424.3 L55.2,426.6 L55.0,429.0 L55.0,444.2 L52.9,452.4 L43.9,468.7 L42.9,470.8 L42.3,473.0 L42.0,475.3 L42.1,477.6 L42.5,479.9 L43.3,482.0 L44.4,484.1 L45.7,485.9 L47.4,487.5 L51.7,491.1 L52.2,491.8 L51.9,492.1 L50.7,494.1 L49.8,496.3 L49.2,498.5 L49.0,500.9 L49.2,503.2 L49.7,505.5 L50.6,507.7 L51.8,509.7 L54.4,513.4 L55.1,521.2 L55.5,523.9 L56.4,526.4 L61.9,537.9 L61.8,538.0 L60.5,539.8 L59.4,541.7 L58.6,543.7 L58.2,545.8 L58.0,548.0 L58.0,553.0 L58.2,555.2 L58.6,557.4 L59.4,559.4 L60.5,561.3 L61.9,563.1 L63.5,564.6 L71.4,571.1 L74.2,578.3 L74.3,579.6 L73.5,580.3 L71.9,582.1 L70.7,584.1 L69.8,586.3 L69.2,588.5 L69.0,590.9 L69.2,593.2 L69.7,595.5 L70.4,597.2 L69.2,603.3 L69.0,605.7 L69.2,608.1 L70.8,619.6 L69.7,625.2 L58.5,648.5 L57.6,650.9 L55.6,657.9 L55.1,660.1 L55.0,662.3 L55.2,664.5 L55.7,666.7 L56.6,668.7 L59.0,673.5 L63.6,689.2 L64.4,691.3 L65.5,693.3 L66.9,695.1 L68.5,696.6 L78.3,704.6 L84.8,712.7 L90.1,721.1 L92.0,728.0 L92.0,756.0 L92.2,758.4 L92.8,760.7 L96.6,772.3 L96.1,773.3 L95.4,775.5 L95.0,777.8 L95.0,780.1 L95.4,782.4 L96.1,784.6 L97.1,786.7 L98.4,788.5 L112.4,805.5 L113.0,806.2 L135.5,830.6 L141.4,842.3 L140.2,849.5 L140.0,851.9 L140.2,854.3 L140.7,856.7 L141.7,858.9 L142.9,860.9 L144.5,862.7 L146.4,864.3 L148.4,865.5 L150.7,866.4 L157.8,868.5 L161.4,871.5 L162.0,872.0 L168.7,877.0 L170.1,891.4 L170.5,893.9 L171.4,896.3 L176.3,906.8 L177.0,917.2 L177.4,919.3 L178.0,921.4 L179.0,923.4 L180.2,925.3 L191.2,939.3 L192.7,940.9 L194.4,942.3 L196.3,943.4 L200.9,945.7 L202.1,958.4 L202.2,959.6 L206.2,982.6 L206.9,985.0 L207.9,987.3 L209.4,989.5 L211.1,991.3 L225.8,1004.1 L242.7,1028.2 L246.1,1036.6 L247.2,1038.8 L248.7,1040.9 L250.5,1042.6 L267.7,1056.7 L268.1,1060.5 L268.5,1062.9 L269.3,1065.1 L270.5,1067.3 L272.0,1069.2 L273.7,1070.8 L282.0,1077.3 L282.0,1108.0 L282.2,1110.5 L282.8,1112.8 L283.8,1115.1 L285.1,1117.2 L286.8,1119.0 L295.9,1127.4 L294.6,1128.3 L292.9,1129.9 L291.4,1131.8 L290.3,1133.9 L289.5,1136.2 L289.1,1138.5 L289.0,1140.9 L289.4,1143.3 L290.1,1145.6 L292.1,1150.6 L293.0,1152.5 L294.2,1154.3 L295.6,1155.8 L297.3,1157.2 L304.3,1162.2 L305.5,1163.0 L324.5,1174.0 L326.6,1175.0 L328.8,1175.6 L331.0,1176.0 L333.3,1175.9 L335.6,1175.6 L337.8,1174.8 L348.0,1170.6 L374.1,1166.8 L376.7,1166.2 L385.7,1163.2 L387.9,1162.3 L388.1,1162.2 L415.7,1164.3 L418.3,1169.1 L417.9,1169.1 L415.7,1169.6 L413.5,1170.5 L411.5,1171.6 L409.7,1173.0 L409.5,1173.3 L409.1,1172.9 L407.3,1171.5 L405.4,1170.4 L403.2,1169.6 L401.0,1169.1 L398.8,1169.0 L396.5,1169.2 L390.5,1170.2 L388.3,1170.8 L386.1,1171.7 L384.1,1172.9 L382.3,1174.4 L380.8,1176.2 L379.6,1178.2 L378.7,1180.4 L378.2,1182.7 L378.0,1185.0 L378.0,1185.3 L377.9,1185.3 L375.8,1184.2 L373.5,1183.4 L371.1,1183.0 L368.7,1183.1 L366.4,1183.4 L358.4,1185.4 L356.0,1186.3 L353.8,1187.5 L351.8,1189.0 L350.1,1190.8 L348.8,1193.0 L347.8,1195.3 L346.8,1198.3 L346.2,1200.4 L346.0,1202.7 L346.1,1204.9 L346.6,1207.1 L347.3,1209.2 L348.4,1211.2 L349.8,1213.0 L351.4,1214.5 L357.4,1219.5 L359.5,1221.0 L361.9,1222.1 L364.4,1222.8 L367.0,1223.0 L376.0,1223.0 L378.2,1222.8 L380.4,1222.3 L382.5,1221.5 L384.4,1220.4 L386.2,1219.0 L387.7,1217.4 L388.9,1215.6 L389.9,1213.6 L391.9,1208.6 L392.6,1206.4 L392.6,1206.3 L394.8,1206.8 L397.2,1207.0 L399.5,1206.8 L401.8,1206.2 L404.0,1205.3 L406.0,1204.0 L410.0,1201.0 L411.1,1200.0 L411.9,1201.0 L413.4,1202.7 L413.3,1202.7 L411.2,1203.6 L409.2,1204.9 L407.4,1206.4 L405.8,1208.2 L404.6,1210.2 L403.7,1212.4 L403.2,1214.7 L403.0,1217.1 L403.2,1219.4 L403.8,1221.7 L406.8,1230.7 L407.8,1233.1 L409.1,1235.2 L410.8,1237.0 L423.8,1249.0 L425.6,1250.4 L427.5,1251.5 L429.6,1252.3 L431.8,1252.8 L434.0,1253.0 L439.0,1253.0 L441.2,1252.8 L443.4,1252.4 L445.4,1251.6 L447.3,1250.5 L449.1,1249.1 L450.6,1247.5 L451.9,1245.7 L454.9,1240.7 L455.9,1238.7 L456.6,1236.6 L456.9,1234.3 L457.0,1232.1 L456.7,1229.8 L456.0,1227.7 L455.1,1225.6 L453.8,1223.7 L452.3,1222.1 L447.0,1217.1 L448.7,1216.4 L450.8,1215.1 L452.7,1213.5 L454.3,1211.6 L455.5,1209.4 L456.4,1207.1 L458.2,1200.7 L460.4,1202.5 L461.3,1203.2 L478.1,1215.2 L483.2,1232.0 L484.1,1239.7 L484.5,1242.0 L485.4,1244.3 L491.4,1257.3 L493.0,1260.0 L495.8,1263.7 L496.9,1265.4 L507.5,1287.5 L508.5,1289.3 L520.5,1307.3 L520.7,1307.5 L528.6,1319.0 L531.0,1325.3 L531.9,1327.3 L533.2,1329.2 L534.7,1330.9 L536.5,1332.3 L538.4,1333.5 L540.5,1334.3 L542.7,1334.8 L545.0,1335.0 L1800.0,1335.0 L1802.3,1334.8 L1804.6,1334.3 L1806.8,1333.4 L1808.8,1332.1 L1810.6,1330.6 L1812.1,1328.8 L1813.4,1326.8 L1814.3,1324.6 L1814.8,1322.3 L1815.0,1320.0 L1815.0,-5.0 L1814.8,-7.3 L1814.3,-9.6 L1813.4,-11.8 L1812.1,-13.8 L1810.6,-15.6 L1808.8,-17.1 L1806.8,-18.4 L1804.6,-19.3 L1802.3,-19.8 L1800.0,-20.0 L52.0,-17.0 L49.6,-16.8 L47.3,-16.3 L45.2,-15.4 L43.2,-14.1 L41.4,-12.6 L39.9,-10.8 L38.6,-8.8 L37.7,-6.6 L37.2,-4.3 L37.1,-3.1 L34.1,4.4Z" fill="none" stroke="#46525c" stroke-width="2.9" stroke-dasharray="7.2 4.6" opacity="0.9" filter="url(#soft)"/>
<g fill="#7a7a7a"><circle cx="826" cy="636" r="5"/><circle cx="1240" cy="718" r="5"/><circle cx="816" cy="1190" r="5"/></g>
<path d="M754.0,568.0 L758.0,590.0 L757.0,596.0 L771.0,607.0 L773.0,619.0 L790.0,621.0 L810.0,623.0 L821.0,621.0 L815.0,610.0 L806.0,598.0 L812.0,585.0 L804.0,579.0 L795.0,581.0 L790.0,597.0 L773.0,579.0 L773.0,567.0 L769.0,563.0Z" fill="#c2c2c2"/>
<path d="M826.0,672.0 L832.0,677.0 L834.0,683.0 L829.0,693.0 L824.0,686.0Z" fill="#c2c2c2"/>
<path d="M576.0,1184.0 L583.0,1186.0 L601.0,1199.0 L602.0,1209.0 L595.0,1213.0 L587.0,1199.0Z" fill="#c2c2c2"/>
<path d="M386.0,437.0 L395.0,430.0 L408.0,426.0 L418.0,424.0 L417.0,429.0 L405.0,434.0 L392.0,440.0Z" fill="#c2c2c2"/>
<path d="M688.0,22.0 L695.0,30.0 L694.0,51.0 L689.0,54.0 L683.0,44.0 L688.0,37.0Z" fill="#c2c2c2"/>
<path d="M840.0,156.0 L844.0,160.0 L846.0,170.0 L843.0,172.0 L839.0,164.0Z" fill="#c2c2c2"/>
<path d="M215.0,934.0 L222.0,936.0 L225.0,944.0 L220.0,950.0 L214.0,945.0Z" fill="#c2c2c2"/>
<path d="M92,2 C110,8 135,12 160,14 C175,15 190,12 200,8 L202,20 C185,22 170,21 150,19 C125,16 105,12 92,10 Z" fill="#b5b5b5" opacity="0.55"/>
<g fill="none" stroke="#a9a9a9" stroke-width="2.5" stroke-linecap="round" opacity="0.8"><path d="M190,10 C200,20 204,28 198,38 C192,48 194,62 193,74 C194,82 192,88 187,89 C184,80 186,70 183,56 C184,46 190,36 186,24"/><path d="M176,44 C170,52 164,64 158,74 C155,80 153,84 152,86"/><path d="M167,98 C170,104 176,107 180,100 C178,94 172,90 168,92"/></g>
<path d="M92,114 L100,116 L105,121 L98,124 L92,122 Z" fill="#a9a9a9" opacity="0.7"/>
<g fill="#5e5e5e" opacity="0.6"><circle cx="443" cy="1145" r="4.5"/><circle cx="193" cy="867" r="4"/><circle cx="194" cy="846" r="3.5"/><circle cx="318" cy="675" r="3"/><circle cx="397" cy="849" r="4"/></g>
<g opacity="0.6">
<path d="M52.0,-2.0 L52.0,0.0 L48.0,10.0 L51.0,27.0 L55.0,37.0 L64.0,49.0 L66.0,60.0 L72.0,65.0 L75.0,89.0 L81.0,98.0 L84.0,112.0 L85.0,127.0 L90.0,145.0 L91.0,181.0 L130.0,182.0 L136.0,191.0 L147.0,189.0 L165.0,198.0 L171.0,215.0 L173.0,230.0 L188.0,238.0 L201.0,241.0 L235.0,230.0 L268.0,238.0 L302.0,231.0 L335.0,221.0 L369.0,211.0 L399.0,206.0 L523.0,205.0 L522.0,188.0 L516.0,169.0 L516.0,-2.0Z " fill="#800026"/>
<path d="M81.0,539.0 L73.0,548.0 L73.0,553.0 L84.0,562.0 L89.0,575.0 L90.0,588.0 L84.0,591.0 L86.0,595.0 L84.0,606.0 L86.0,620.0 L84.0,630.0 L72.0,655.0 L70.0,662.0 L73.0,668.0 L78.0,685.0 L89.0,694.0 L97.0,704.0 L104.0,715.0 L107.0,726.0 L107.0,756.0 L113.0,774.0 L110.0,779.0 L124.0,796.0 L148.0,822.0 L157.0,840.0 L155.0,852.0 L165.0,855.0 L171.0,860.0 L183.0,869.0 L185.0,890.0 L191.0,903.0 L192.0,916.0 L203.0,930.0 L215.0,936.0 L217.0,957.0 L221.0,980.0 L237.0,994.0 L256.0,1021.0 L260.0,1031.0 L282.0,1049.0 L283.0,1059.0 L297.0,1070.0 L297.0,1108.0 L311.0,1121.0 L339.0,1122.0 L365.0,1126.0 L381.0,1138.0 L386.0,1147.0 L425.0,1150.0 L432.0,1163.0 L446.0,1171.0 L470.0,1191.0 L491.0,1206.0 L498.0,1229.0 L499.0,1238.0 L505.0,1251.0 L508.0,1255.0 L654.0,1243.0 L671.0,1236.0 L670.0,1220.0 L658.0,1217.0 L656.0,1194.0 L668.0,1183.0 L669.0,1155.0 L678.0,1138.0 L691.0,1128.0 L678.0,1117.0 L673.0,1102.0 L663.0,1087.0 L662.0,1074.0 L340.0,776.0 L340.0,539.0Z M304.0,1140.0 L314.0,1138.0 L328.0,1145.0 L342.0,1141.0 L365.0,1143.0 L381.0,1149.0 L372.0,1152.0 L344.0,1156.0 L332.0,1161.0 L313.0,1150.0 L306.0,1145.0Z M393.0,1185.0 L399.0,1184.0 L401.0,1189.0 L397.0,1192.0 L393.0,1190.0Z M420.0,1184.0 L432.0,1186.0 L444.0,1196.0 L442.0,1203.0 L432.0,1201.0 L423.0,1191.0Z M362.0,1200.0 L370.0,1198.0 L378.0,1203.0 L376.0,1208.0 L367.0,1208.0 L361.0,1203.0Z M418.0,1217.0 L425.0,1217.0 L442.0,1233.0 L439.0,1238.0 L434.0,1238.0 L421.0,1226.0Z" fill="#800026"/>
<path d="M577.0,-2.0 L1298.0,-2.0 L1298.0,291.0 L876.0,291.0 L876.0,335.0 L875.0,334.0 L863.0,320.0 L856.0,312.0 L848.0,320.0 L850.0,329.0 L832.0,330.0 L801.0,328.0 L795.0,336.0 L789.0,334.0 L777.0,333.0 L768.0,345.0 L758.0,335.0 L756.0,319.0 L746.0,306.0 L740.0,309.0 L731.0,298.0 L731.0,286.0 L718.0,269.0 L714.0,255.0 L713.0,240.0 L700.0,230.0 L692.0,243.0 L678.0,252.0 L667.0,240.0 L667.0,219.0 L676.0,216.0 L670.0,200.0 L673.0,188.0 L678.0,160.0 L681.0,150.0 L677.0,146.0 L664.0,149.0 L658.0,141.0 L645.0,134.0 L632.0,110.0 L620.0,95.0 L611.0,93.0 L595.0,79.0 L601.0,77.0 L594.0,68.0 L597.0,58.0 L586.0,43.0 L576.0,31.0 L577.0,-2.0Z " fill="#e31a1c"/>
<path d="M996.0,619.0 L1420.0,619.0 L1420.0,928.0 L996.0,928.0Z " fill="#bd0026"/>
<path d="M516.0,-2.0 L577.0,-2.0 L576.0,31.0 L586.0,43.0 L597.0,58.0 L594.0,68.0 L601.0,77.0 L595.0,79.0 L611.0,93.0 L620.0,95.0 L632.0,110.0 L645.0,134.0 L658.0,141.0 L664.0,149.0 L677.0,146.0 L681.0,150.0 L678.0,160.0 L673.0,188.0 L670.0,200.0 L676.0,216.0 L667.0,219.0 L667.0,240.0 L678.0,252.0 L692.0,243.0 L700.0,230.0 L713.0,240.0 L714.0,255.0 L718.0,269.0 L731.0,286.0 L731.0,298.0 L740.0,309.0 L746.0,306.0 L756.0,319.0 L758.0,335.0 L768.0,345.0 L777.0,333.0 L789.0,334.0 L795.0,336.0 L801.0,328.0 L832.0,330.0 L850.0,329.0 L848.0,320.0 L856.0,312.0 L863.0,320.0 L875.0,334.0 L876.0,335.0 L876.0,540.0 L518.0,540.0 L518.0,400.0 L520.0,379.0 L524.0,360.0 L507.0,352.0 L505.0,335.0 L515.0,314.0 L528.0,291.0 L538.0,264.0 L551.0,238.0 L545.0,226.0 L530.0,219.0 L523.0,205.0 L522.0,188.0 L516.0,169.0 L516.0,-2.0Z " fill="#fc4e2a"/>
<path d="M91.0,181.0 L130.0,182.0 L136.0,191.0 L147.0,189.0 L165.0,198.0 L171.0,215.0 L173.0,230.0 L188.0,238.0 L201.0,241.0 L235.0,230.0 L268.0,238.0 L302.0,231.0 L335.0,221.0 L369.0,211.0 L399.0,206.0 L523.0,205.0 L530.0,219.0 L545.0,226.0 L551.0,238.0 L538.0,264.0 L528.0,291.0 L515.0,314.0 L505.0,335.0 L507.0,352.0 L524.0,360.0 L520.0,379.0 L518.0,400.0 L518.0,539.0 L81.0,539.0 L78.0,537.0 L70.0,520.0 L69.0,508.0 L64.0,501.0 L66.0,500.0 L69.0,490.0 L63.0,481.0 L57.0,476.0 L67.0,458.0 L70.0,446.0 L70.0,429.0 L77.0,424.0 L80.0,410.0 L84.0,389.0 L86.0,380.0 L87.0,363.0 L89.0,345.0 L90.0,317.0 L92.0,302.0 L95.0,287.0 L96.0,256.0 L96.0,226.0 L95.0,207.0 L98.0,195.0 L96.0,192.0Z " fill="#fd8d3c"/>
<path d="M876.0,291.0 L1297.0,291.0 L1296.0,619.0 L876.0,619.0Z " fill="#feb24c"/>
<path d="M997.0,928.0 L1360.0,928.0 L1356.0,1294.0 L1145.0,1294.0 L1143.0,1300.0 L1150.0,1309.0 L1047.0,1309.0 L1047.0,1315.0 L997.0,1315.0Z " fill="#feb24c"/>
<path d="M696.0,540.0 L876.0,540.0 L876.0,619.0 L996.0,619.0 L996.0,927.0 L696.0,927.0Z " fill="#fed976"/>
<path d="M696.0,927.0 L996.0,927.0 L997.0,1315.0 L792.0,1315.0 L651.0,1255.0 L654.0,1243.0 L671.0,1236.0 L670.0,1220.0 L658.0,1217.0 L656.0,1194.0 L668.0,1183.0 L669.0,1155.0 L678.0,1138.0 L691.0,1128.0 L678.0,1117.0 L673.0,1102.0 L663.0,1087.0 L662.0,1074.0 L665.0,1064.0 L658.0,1038.0 L659.0,1015.0 L655.0,1006.0 L654.0,997.0 L663.0,991.0 L678.0,992.0 L682.0,1000.0 L690.0,1000.0 L696.0,990.0Z " fill="#fed976"/>
<path d="M340.0,540.0 L696.0,540.0 L696.0,990.0 L690.0,1000.0 L682.0,1000.0 L678.0,992.0 L663.0,991.0 L654.0,997.0 L655.0,1006.0 L659.0,1015.0 L658.0,1038.0 L665.0,1064.0 L662.0,1074.0 L340.0,776.0Z " fill="#ffffcc"/>
</g>
<path d="M92,-2 L92,0 C100,4 112,6 129,7 C138,7 144,4 146,-2 Z" fill="#dcdcdc" stroke="#b8b8b8" stroke-width="1"/>
<path d="M91.0,181.0 L130.0,182.0 L136.0,191.0 L147.0,189.0 L165.0,198.0 L171.0,215.0 L173.0,230.0 L188.0,238.0 L201.0,241.0 L235.0,230.0 L268.0,238.0 L302.0,231.0 L335.0,221.0 L369.0,211.0 L399.0,206.0 L523.0,205.0" fill="none" stroke="#383838" stroke-width="1.2" opacity="0.75"/>
<path d="M516.0,-2.0 L516.0,169.0 L522.0,188.0 L523.0,205.0" fill="none" stroke="#383838" stroke-width="1.2" opacity="0.75"/>
<path d="M523.0,205.0 L530.0,219.0 L545.0,226.0 L551.0,238.0 L538.0,264.0 L528.0,291.0 L515.0,314.0 L505.0,335.0 L507.0,352.0 L524.0,360.0 L520.0,379.0 L518.0,400.0 L518.0,539.0" fill="none" stroke="#383838" stroke-width="1.2" opacity="0.75"/>
<path d="M81.0,539.0 L876.0,540.0" fill="none" stroke="#383838" stroke-width="1.2" opacity="0.75"/>
<path d="M577.0,-2.0 L576.0,31.0 L586.0,43.0 L597.0,58.0 L594.0,68.0 L601.0,77.0 L595.0,79.0 L611.0,93.0 L620.0,95.0 L632.0,110.0 L645.0,134.0 L658.0,141.0 L664.0,149.0 L677.0,146.0 L681.0,150.0 L678.0,160.0 L673.0,188.0 L670.0,200.0 L676.0,216.0 L667.0,219.0 L667.0,240.0 L678.0,252.0 L692.0,243.0 L700.0,230.0 L713.0,240.0 L714.0,255.0 L718.0,269.0 L731.0,286.0 L731.0,298.0 L740.0,309.0 L746.0,306.0 L756.0,319.0 L758.0,335.0 L768.0,345.0 L777.0,333.0 L789.0,334.0 L795.0,336.0 L801.0,328.0 L832.0,330.0 L850.0,329.0 L848.0,320.0 L856.0,312.0 L863.0,320.0 L875.0,334.0 L876.0,335.0" fill="none" stroke="#383838" stroke-width="1.2" opacity="0.75"/>
<path d="M876.0,291.0 L876.0,619.0 L996.0,619.0" fill="none" stroke="#383838" stroke-width="1.2" opacity="0.75"/>
<path d="M876.0,291.0 L1298.0,291.0" fill="none" stroke="#383838" stroke-width="1.2" opacity="0.75"/>
<path d="M1298.0,-2.0 L1298.0,291.0 L1296.0,619.0" fill="none" stroke="#383838" stroke-width="1.2" opacity="0.75"/>
<path d="M340.0,539.0 L340.0,776.0 L662.0,1074.0" fill="none" stroke="#383838" stroke-width="1.2" opacity="0.75"/>
<path d="M696.0,540.0 L696.0,990.0 L690.0,1000.0 L682.0,1000.0 L678.0,992.0 L663.0,991.0 L654.0,997.0 L655.0,1006.0 L659.0,1015.0 L658.0,1038.0 L665.0,1064.0 L662.0,1074.0" fill="none" stroke="#383838" stroke-width="1.2" opacity="0.75"/>
<path d="M662.0,1074.0 L663.0,1087.0 L673.0,1102.0 L678.0,1117.0 L691.0,1128.0 L678.0,1138.0 L669.0,1155.0 L668.0,1183.0 L656.0,1194.0 L658.0,1217.0 L670.0,1220.0 L671.0,1236.0 L654.0,1243.0" fill="none" stroke="#383838" stroke-width="1.2" opacity="0.75"/>
<path d="M508.0,1255.0 L654.0,1243.0" fill="none" stroke="#383838" stroke-width="1.2" opacity="0.75"/>
<path d="M654.0,1243.0 L651.0,1255.0 L792.0,1315.0" fill="none" stroke="#383838" stroke-width="1.2" opacity="0.75"/>
<path d="M996.0,619.0 L996.0,927.0" fill="none" stroke="#383838" stroke-width="1.2" opacity="0.75"/>
<path d="M696.0,927.0 L996.0,927.0" fill="none" stroke="#383838" stroke-width="1.2" opacity="0.75"/>
<path d="M996.0,619.0 L1420.0,619.0" fill="none" stroke="#383838" stroke-width="1.2" opacity="0.75"/>
<path d="M996.0,928.0 L1420.0,928.0" fill="none" stroke="#383838" stroke-width="1.2" opacity="0.75"/>
<path d="M996.0,927.0 L997.0,1315.0" fill="none" stroke="#383838" stroke-width="1.2" opacity="0.75"/>
<path d="M1360.0,928.0 L1356.0,1294.0 L1145.0,1294.0 L1143.0,1300.0 L1150.0,1309.0 L1047.0,1309.0 L1047.0,1315.0" fill="none" stroke="#383838" stroke-width="1.2" opacity="0.75"/>
</svg>
<div class="btn"></div><div class="dot"></div>
<div class="legend">
<div class="title">Percent lost by 2011</div>
<div class="sw"><div style="position:absolute;left:0;top:0px;width:56px;height:56px;background:#800026"></div><div style="position:absolute;left:0;top:56px;width:56px;height:56px;background:#bd0026"></div><div style="position:absolute;left:0;top:112px;width:56px;height:56px;background:#e31a1c"></div><div style="position:absolute;left:0;top:168px;width:56px;height:56px;background:#fc4e2a"></div><div style="position:absolute;left:0;top:224px;width:56px;height:56px;background:#fd8d3c"></div><div style="position:absolute;left:0;top:280px;width:56px;height:56px;background:#feb24c"></div><div style="position:absolute;left:0;top:336px;width:56px;height:56px;background:#fed976"></div><div style="position:absolute;left:0;top:392px;width:56px;height:56px;background:#ffeda0"></div><div style="position:absolute;left:0;top:448px;width:56px;height:56px;background:#ffffcc"></div></div>
<div class="lab" style="top:118px">Most loss</div>
<div class="lab" style="top:342px">Median loss</div>
<div class="lab" style="top:566px">Least loss</div>
<div class="foot">* States ranked according to quantiles</div>
</div>
</body></html>
